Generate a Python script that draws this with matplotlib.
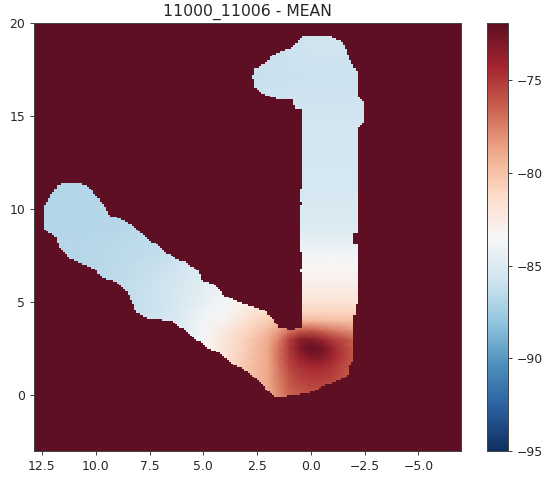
import numpy as np
import matplotlib
matplotlib.use("Agg")
import matplotlib.pyplot as plt
from matplotlib.colors import ListedColormap, LinearSegmentedColormap
from matplotlib.path import Path

title = "11000_11006 - MEAN"
x_ticks = [12.5, 10.0, 7.5, 5.0, 2.5, 0.0, -2.5, -5.0]
y_ticks = [0, 5, 10, 15, 20]
cbar_ticks = [-75, -80, -85, -90, -95]
vmin, vmax = -95, -71.9
cmap_colors = ["#0f2f60", "#2a5f9f", "#4c8fbd", "#92c5de", "#d1e5f0", "#f7f7f7",
               "#fddbc7", "#efa98a", "#cc6350", "#a3242e", "#5f0f23"]

x_nodes = [13, 11, 9, 7, 6, 5, 4, 3, 2, 1.5, 1, .5, 0, -.5, -1, -2, -3]
y_nodes = [-0.5, 0.5, 1, 1.5, 2, 2.5, 3, 3.5, 4, 4.5, 5, 6, 7, 7.5, 8, 9, 11, 14, 17, 20]
values = [
    [-83.0, -83.0, -83.0, -83.0, -83.0, -82.5, -81.5, -80.5, -79.0, -78.0, -77.0, -76.5, -76.3, -76.3, -76.5, -77.0, -78.0],
    [-83.5, -83.5, -83.5, -83.5, -83.5, -83.0, -81.5, -80.0, -78.8, -77.6, -76.2, -75.7, -75.5, -75.5, -75.7, -76.8, -78.0],
    [-84.0, -84.0, -84.0, -84.0, -84.0, -83.0, -81.7, -80.3, -78.8, -77.4, -76.0, -75.2, -75.0, -75.0, -75.3, -76.5, -78.0],
    [-84.5, -84.5, -84.5, -84.5, -84.0, -83.2, -81.8, -80.2, -78.8, -77.2, -75.5, -74.8, -74.5, -74.5, -74.9, -76.3, -78.0],
    [-85.0, -85.0, -85.0, -85.0, -84.2, -83.3, -81.8, -80.3, -78.8, -77.0, -75.2, -74.0, -73.2, -73.2, -74.2, -76.2, -78.0],
    [-85.4, -85.4, -85.4, -85.2, -84.4, -83.5, -82.0, -80.5, -78.8, -77.0, -75.0, -73.0, -72.0, -72.5, -74.0, -76.2, -78.0],
    [-85.8, -85.8, -85.8, -85.5, -84.5, -83.5, -82.0, -80.6, -79.0, -77.5, -75.2, -73.5, -73.2, -74.0, -75.0, -76.5, -78.0],
    [-86.2, -86.2, -86.0, -85.6, -84.7, -83.7, -82.3, -81.0, -79.7, -78.5, -77.2, -76.5, -76.3, -76.8, -77.4, -78.3, -79.0],
    [-86.5, -86.5, -86.2, -85.6, -85.0, -83.8, -83.0, -81.7, -80.5, -80.0, -79.8, -79.5, -79.5, -79.7, -79.8, -80.0, -80.0],
    [-86.6, -86.6, -86.3, -85.8, -85.0, -84.0, -83.3, -82.3, -81.2, -81.0, -81.0, -81.0, -81.0, -81.0, -81.0, -81.0, -81.0],
    [-86.6, -86.6, -86.4, -85.8, -85.2, -84.5, -83.7, -82.8, -82.0, -81.8, -81.8, -81.8, -81.8, -81.8, -81.8, -81.8, -81.8],
    [-86.6, -86.6, -86.5, -85.8, -85.4, -84.8, -84.0, -83.2, -82.8, -82.8, -82.8, -82.8, -82.8, -82.8, -82.8, -82.8, -82.8],
    [-86.7, -86.7, -86.5, -86.0, -85.6, -85.0, -84.5, -83.8, -83.4, -83.4, -83.4, -83.4, -83.4, -83.4, -83.4, -83.4, -83.4],
    [-86.7, -86.7, -86.6, -86.2, -85.8, -85.3, -84.7, -84.2, -83.8, -83.8, -83.8, -83.8, -83.8, -83.8, -83.8, -83.8, -83.8],
    [-86.7, -86.7, -86.6, -86.3, -85.9, -85.5, -85.0, -84.5, -84.3, -84.3, -84.3, -84.3, -84.3, -84.3, -84.3, -84.3, -84.3],
    [-86.8, -86.8, -86.7, -86.4, -86.0, -85.8, -85.4, -85.0, -85.0, -85.0, -85.0, -85.0, -85.0, -85.0, -85.0, -85.0, -85.0],
    [-86.8, -86.8, -86.7, -86.4, -86.1, -86.0, -85.6, -85.5, -85.5, -85.5, -85.5, -85.5, -85.5, -85.5, -85.5, -85.5, -85.5],
    [-86.8, -86.8, -86.7, -86.4, -86.2, -86.0, -85.8, -85.6, -85.6, -85.6, -85.6, -85.6, -85.6, -85.6, -85.6, -85.6, -85.6],
    [-86.8, -86.8, -86.7, -86.4, -86.2, -86.2, -86.1, -86.1, -86.0, -86.0, -85.9, -85.9, -85.9, -85.9, -85.9, -85.9, -85.9],
    [-86.8, -86.8, -86.7, -86.4, -86.2, -86.2, -86.0, -86.0, -85.9, -85.9, -85.8, -85.8, -85.7, -85.7, -85.7, -85.7, -85.7],
]

outline_x = [-0.09, -0.88, -1.16, -1.44, -1.67, -1.86, -2.14, -2.14, -2.14, -2.47, -2.47, -2.23, -2.23, -2.14, -2.14, -1.95, -1.95,
             -2.14, -2.14, -2.23, -2.23, -2.09, -1.95, -1.95, -1.77, -1.77, -1.35, -0.65, -0.05, 0.74, 1.58, 1.91, 2.28, 2.70,
             3.16, 3.63, 4.23, 4.84, 5.49, 6.09, 6.56, 7.58, 8.09, 8.37, 8.42, 8.98, 9.67, 10.14, 11.21, 11.67, 11.91, 12.28,
             12.42, 12.42, 12.14, 11.77, 11.30, 10.74, 10.28, 9.72, 9.35, 8.74, 8.19, 7.58, 6.88, 6.33, 5.86, 5.26, 5.07, 4.60,
             3.91, 3.07, 2.14, 1.77, 1.44, 0.84, 0.42, 0.42, 0.56, 0.42, 0.42, 0.56, 0.56, 0.42, 0.56, 0.56, 0.42, 0.42, 0.74,
             0.84, 1.53, 1.91, 2.37, 2.60, 2.60, 2.70, 2.60, 2.14, 1.81, 1.21, 0.84, 0.65, 0.42]
outline_y = [19.35, 19.35, 19.14, 19.03, 18.55, 17.90, 17.37, 16.83, 16.13, 15.70, 14.62, 14.41, 12.26, 12.26, 8.71, 8.71, 8.06,
             8.06, 6.56, 6.56, 5.11, 4.84, 3.49, 1.88, 1.51, 1.08, 0.81, 0.54, 0.16, 0.00, -0.11, 0.11, 0.65, 1.08,
             1.40, 1.67, 2.26, 2.58, 3.12, 3.66, 4.03, 4.09, 4.46, 5.11, 5.38, 6.02, 6.34, 6.83, 7.37, 7.90, 8.60, 8.76,
             9.03, 10.11, 10.65, 11.29, 11.45, 11.45, 11.13, 10.38, 9.68, 9.41, 9.03, 8.44, 7.80, 7.37, 7.15, 6.72, 6.18, 6.02,
             5.27, 4.89, 4.57, 4.09, 3.60, 3.49, 3.66, 6.56, 6.72, 6.83, 7.63, 7.69, 9.95, 10.38, 10.48, 11.02, 11.13, 15.38, 15.43,
             15.86, 15.91, 16.02, 16.29, 16.51, 16.94, 16.99, 17.53, 17.85, 18.23, 18.55, 18.66, 18.98, 19.25]

cmap = LinearSegmentedColormap.from_list("muted_rdbu_r", cmap_colors, N=256)

fig_w, fig_h = 544, 477
fig = plt.figure(figsize=(fig_w / 72, fig_h / 72), dpi=72)
ax = fig.add_axes([34 / fig_w, 1 - 451 / fig_h, 427 / fig_w, 428 / fig_h])
cax = fig.add_axes([487 / fig_w, 1 - 451 / fig_h, 21 / fig_w, 428 / fig_h])

mesh = ax.pcolormesh(x_nodes, y_nodes, np.array(values), shading="gouraud",
                     cmap=cmap, vmin=vmin, vmax=vmax, zorder=1)

# blocky "outside" mask on the map's 0.1-unit grid
xlim = (12.87, -6.98)
ylim = (-3, 20)
xe = np.arange(xlim[1], xlim[0] + 0.1, 0.1)
ye = np.arange(ylim[0], ylim[1] + 0.1, 0.1)
xc, yc = np.meshgrid((xe[:-1] + xe[1:]) / 2, (ye[:-1] + ye[1:]) / 2)
inside = Path(np.column_stack([outline_x, outline_y])).contains_points(
    np.column_stack([xc.ravel(), yc.ravel()])).reshape(xc.shape)
ax.pcolormesh(xe, ye, np.ma.masked_where(inside, np.ones_like(xc)),
              cmap=ListedColormap(["#5f0f23"]), zorder=2, linewidth=0, rasterized=True)

ax.set_xlim(*xlim)
ax.set_ylim(*ylim)
ax.set_xticks(x_ticks)
ax.set_yticks(y_ticks)
text_color = "#262626"
ax.tick_params(labelsize=12.4, length=4.4, width=1, pad=4.4, labelcolor=text_color, color="#444444")
ax.set_title(title, fontsize=15.6, pad=7, color=text_color)
for s in ax.spines.values():
    s.set_linewidth(1)
    s.set_color("#444444")

sm = plt.cm.ScalarMappable(norm=plt.Normalize(vmin, vmax), cmap=cmap)
cb = fig.colorbar(sm, cax=cax)
cb.set_ticks(cbar_ticks)
cb.ax.tick_params(labelsize=12.4, length=4.4, width=1, pad=4.4, labelcolor=text_color, color="#444444")
cb.outline.set_linewidth(1)
cb.outline.set_edgecolor("#444444")

fig.savefig("out.png", dpi=72)
